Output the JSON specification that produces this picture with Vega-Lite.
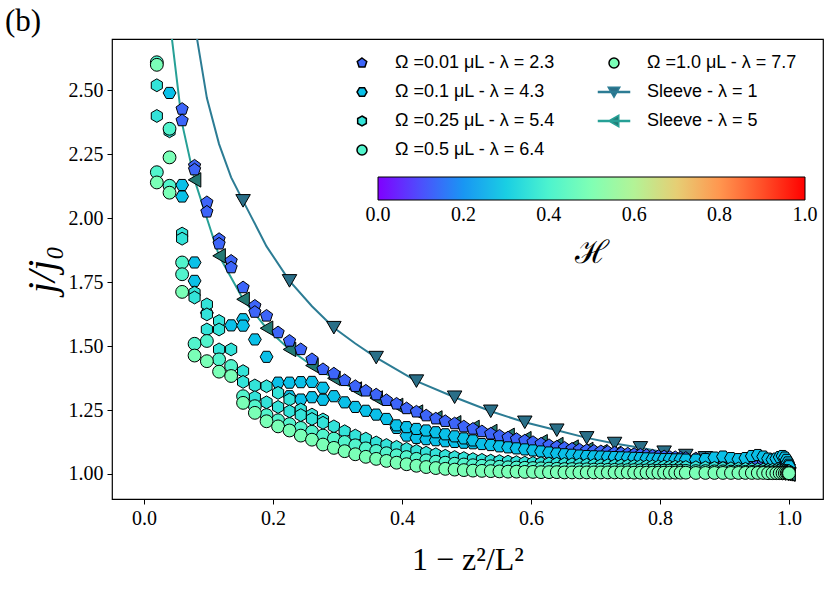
{
"$schema":"https://vega.github.io/schema/vega-lite/v6.json",
"width":711,"height":460,
"autosize":{"type":"none"},
"padding":{"left":112,"top":39,"right":7,"bottom":90},
"background":"white",
"title":{"text":"(b)","anchor":"start","frame":"group","dx":-107,"offset":1,"fontSize":31,"font":"Liberation Serif","fontWeight":"normal","color":"black"},
"config":{"view":{"stroke":"black","strokeWidth":1.2},
"axis":{"labelFont":"Liberation Serif","labelFontSize":20,"labelColor":"black","tickColor":"black","tickSize":5,"tickWidth":1,"domain":false,"grid":false,"titleFont":"Liberation Serif","titleColor":"black","titleFontWeight":"normal","labelPadding":4}},
"datasets":{
"hs":[{"s":"a","h":0.13},{"s":"b","h":0.27},{"s":"c","h":0.35},{"s":"d","h":0.41},{"s":"e","h":0.49}],
"l1":[{"x":0.0784,"y":2.76,"mk":0},{"x":0.0975,"y":2.47,"mk":0},{"x":0.1164,"y":2.29,"mk":0},{"x":0.1351,"y":2.16,"mk":0},{"x":0.1536,"y":2.068,"mk":1},{"x":0.19,"y":1.89,"mk":0},{"x":0.2256,"y":1.755,"mk":1},{"x":0.2604,"y":1.656,"mk":0},{"x":0.2944,"y":1.572,"mk":1},{"x":0.3276,"y":1.51,"mk":0},{"x":0.36,"y":1.455,"mk":1},{"x":0.4224,"y":1.363,"mk":1},{"x":0.4816,"y":1.3,"mk":1},{"x":0.5376,"y":1.245,"mk":1},{"x":0.5904,"y":1.202,"mk":1},{"x":0.64,"y":1.171,"mk":1},{"x":0.6864,"y":1.141,"mk":1},{"x":0.7296,"y":1.119,"mk":1},{"x":0.7696,"y":1.102,"mk":1},{"x":0.8064,"y":1.085,"mk":1},{"x":0.84,"y":1.072,"mk":1},{"x":0.8704,"y":1.063,"mk":1},{"x":0.8976,"y":1.052,"mk":1},{"x":0.9216,"y":1.043,"mk":1},{"x":0.9424,"y":1.034,"mk":1},{"x":0.96,"y":1.026,"mk":1},{"x":0.9744,"y":1.018,"mk":1},{"x":0.9856,"y":1.011,"mk":1},{"x":0.9936,"y":1.006,"mk":1},{"x":0.9984,"y":1.002,"mk":1},{"x":1.0,"y":1.0,"mk":1}],
"l5":[{"x":0.0396,"y":2.78,"mk":0},{"x":0.0591,"y":2.37,"mk":0},{"x":0.0784,"y":2.15,"mk":1},{"x":0.0975,"y":2.0,"mk":0},{"x":0.1164,"y":1.853,"mk":1},{"x":0.1536,"y":1.683,"mk":1},{"x":0.19,"y":1.57,"mk":1},{"x":0.2256,"y":1.487,"mk":1},{"x":0.2604,"y":1.424,"mk":1},{"x":0.2944,"y":1.374,"mk":1},{"x":0.3276,"y":1.332,"mk":1},{"x":0.36,"y":1.297,"mk":1},{"x":0.3916,"y":1.268,"mk":1},{"x":0.4224,"y":1.242,"mk":1},{"x":0.4524,"y":1.219,"mk":1},{"x":0.4816,"y":1.2,"mk":1},{"x":0.51,"y":1.182,"mk":1},{"x":0.5376,"y":1.166,"mk":1},{"x":0.5644,"y":1.151,"mk":1},{"x":0.5904,"y":1.138,"mk":1},{"x":0.6156,"y":1.126,"mk":1},{"x":0.64,"y":1.115,"mk":1},{"x":0.6636,"y":1.105,"mk":1},{"x":0.6864,"y":1.096,"mk":1},{"x":0.7084,"y":1.087,"mk":1},{"x":0.7296,"y":1.08,"mk":1},{"x":0.75,"y":1.072,"mk":1},{"x":0.7696,"y":1.065,"mk":1},{"x":0.7884,"y":1.059,"mk":1},{"x":0.8064,"y":1.053,"mk":1},{"x":0.8236,"y":1.048,"mk":1},{"x":0.84,"y":1.043,"mk":1},{"x":0.8556,"y":1.038,"mk":1},{"x":0.8704,"y":1.034,"mk":1},{"x":0.8844,"y":1.03,"mk":1},{"x":0.8976,"y":1.026,"mk":1},{"x":0.91,"y":1.023,"mk":1},{"x":0.9216,"y":1.02,"mk":1},{"x":0.9324,"y":1.017,"mk":1},{"x":0.9424,"y":1.014,"mk":1},{"x":0.9516,"y":1.012,"mk":1},{"x":0.96,"y":1.01,"mk":1},{"x":0.9676,"y":1.008,"mk":1},{"x":0.9744,"y":1.006,"mk":1},{"x":0.9804,"y":1.005,"mk":1},{"x":0.9856,"y":1.0035,"mk":1},{"x":0.99,"y":1.0024,"mk":1},{"x":0.9936,"y":1.0015,"mk":1},{"x":0.9964,"y":1.0009,"mk":1},{"x":0.9984,"y":1.0004,"mk":1},{"x":0.9996,"y":1.0001,"mk":1},{"x":1.0,"y":1.0,"mk":1}],
"pts":[
{"s":"a","x":0.0591,"y":2.427},{"s":"a","x":0.0591,"y":2.382},{"s":"a","x":0.0784,"y":2.205},{"s":"a","x":0.0784,"y":2.19},{"s":"a","x":0.0975,"y":2.062},{"s":"a","x":0.0975,"y":2.025},{"s":"a","x":0.1164,"y":1.918},{"s":"a","x":0.1164,"y":1.9},{"s":"a","x":0.1351,"y":1.833},{"s":"a","x":0.1351,"y":1.807},{"s":"a","x":0.1536,"y":1.729},{"s":"a","x":0.1719,"y":1.657},{"s":"a","x":0.1719,"y":1.633},{"s":"a","x":0.19,"y":1.618},{"s":"a","x":0.2079,"y":1.553},{"s":"a","x":0.2256,"y":1.52},{"s":"a","x":0.2431,"y":1.487},{"s":"a","x":0.2604,"y":1.448},{"s":"a","x":0.2775,"y":1.409},{"s":"a","x":0.2944,"y":1.392},{"s":"a","x":0.3111,"y":1.366},{"s":"a","x":0.3276,"y":1.343},{"s":"a","x":0.3439,"y":1.325},{"s":"a","x":0.36,"y":1.31},{"s":"a","x":0.3759,"y":1.288},{"s":"a","x":0.3916,"y":1.274},{"s":"a","x":0.4071,"y":1.256},{"s":"a","x":0.4224,"y":1.243},{"s":"a","x":0.4375,"y":1.228},{"s":"a","x":0.4524,"y":1.216},{"s":"a","x":0.4671,"y":1.206},{"s":"a","x":0.4816,"y":1.197},{"s":"a","x":0.4959,"y":1.185},{"s":"a","x":0.51,"y":1.176},{"s":"a","x":0.5239,"y":1.166},{"s":"a","x":0.5376,"y":1.157},{"s":"a","x":0.5511,"y":1.149},{"s":"a","x":0.5644,"y":1.142},{"s":"a","x":0.5775,"y":1.136},{"s":"a","x":0.5904,"y":1.13},{"s":"a","x":0.6031,"y":1.124},{"s":"a","x":0.6156,"y":1.118},{"s":"a","x":0.6279,"y":1.112},{"s":"a","x":0.64,"y":1.106},{"s":"a","x":0.6519,"y":1.102},{"s":"a","x":0.6636,"y":1.098},{"s":"a","x":0.6751,"y":1.095},{"s":"a","x":0.6864,"y":1.092},{"s":"a","x":0.6975,"y":1.09},{"s":"a","x":0.7084,"y":1.088},{"s":"a","x":0.7191,"y":1.086},{"s":"a","x":0.7296,"y":1.083},{"s":"a","x":0.7399,"y":1.081},{"s":"a","x":0.75,"y":1.079},{"s":"a","x":0.7599,"y":1.077},{"s":"a","x":0.7696,"y":1.075},{"s":"a","x":0.7791,"y":1.073},{"s":"a","x":0.7884,"y":1.071},{"s":"a","x":0.7975,"y":1.069},{"s":"a","x":0.8064,"y":1.068},{"s":"a","x":0.8151,"y":1.066},{"s":"a","x":0.8236,"y":1.065},{"s":"a","x":0.8319,"y":1.063},{"s":"a","x":0.84,"y":1.062},{"s":"a","x":0.8556,"y":1.06},{"s":"a","x":0.8704,"y":1.058},{"s":"a","x":0.8844,"y":1.056},{"s":"a","x":0.8976,"y":1.054},{"s":"a","x":0.91,"y":1.052},{"s":"a","x":0.9216,"y":1.05},{"s":"a","x":0.9324,"y":1.049},{"s":"a","x":0.9424,"y":1.047},{"s":"a","x":0.9516,"y":1.046},{"s":"a","x":0.96,"y":1.044},{"s":"a","x":0.9676,"y":1.043},{"s":"a","x":0.9744,"y":1.041},{"s":"a","x":0.9804,"y":1.04},{"s":"a","x":0.9856,"y":1.038},{"s":"a","x":0.99,"y":1.037},{"s":"a","x":0.9936,"y":1.035},{"s":"a","x":0.9964,"y":1.034},{"s":"a","x":0.9984,"y":1.032},{"s":"a","x":0.9996,"y":1.031},{"s":"a","x":1.0,"y":1.03},
{"s":"b","x":0.0396,"y":2.49},{"s":"b","x":0.0591,"y":2.13},{"s":"b","x":0.0591,"y":2.085},{"s":"b","x":0.0784,"y":1.827},{"s":"b","x":0.0784,"y":1.755},{"s":"b","x":0.0975,"y":1.63},{"s":"b","x":0.1351,"y":1.581},{"s":"b","x":0.1536,"y":1.605},{"s":"b","x":0.1536,"y":1.58},{"s":"b","x":0.1719,"y":1.526},{"s":"b","x":0.19,"y":1.458},{"s":"b","x":0.2079,"y":1.357},{"s":"b","x":0.2256,"y":1.357},{"s":"b","x":0.2256,"y":1.304},{"s":"b","x":0.2431,"y":1.359},{"s":"b","x":0.2431,"y":1.291},{"s":"b","x":0.2604,"y":1.36},{"s":"b","x":0.2604,"y":1.3},{"s":"b","x":0.2775,"y":1.337},{"s":"b","x":0.2775,"y":1.29},{"s":"b","x":0.2944,"y":1.304},{"s":"b","x":0.3111,"y":1.28},{"s":"b","x":0.3276,"y":1.262},{"s":"b","x":0.3439,"y":1.247},{"s":"b","x":0.36,"y":1.232},{"s":"b","x":0.3759,"y":1.215},{"s":"b","x":0.3916,"y":1.18},{"s":"b","x":0.3916,"y":1.19},{"s":"b","x":0.4071,"y":1.15},{"s":"b","x":0.4071,"y":1.183},{"s":"b","x":0.4224,"y":1.141},{"s":"b","x":0.4224,"y":1.176},{"s":"b","x":0.4375,"y":1.136},{"s":"b","x":0.4375,"y":1.17},{"s":"b","x":0.4524,"y":1.132},{"s":"b","x":0.4524,"y":1.163},{"s":"b","x":0.4671,"y":1.128},{"s":"b","x":0.4671,"y":1.155},{"s":"b","x":0.4816,"y":1.125},{"s":"b","x":0.4816,"y":1.147},{"s":"b","x":0.4959,"y":1.122},{"s":"b","x":0.4959,"y":1.139},{"s":"b","x":0.51,"y":1.12},{"s":"b","x":0.51,"y":1.131},{"s":"b","x":0.5239,"y":1.117},{"s":"b","x":0.5376,"y":1.113},{"s":"b","x":0.5511,"y":1.108},{"s":"b","x":0.5644,"y":1.104},{"s":"b","x":0.5775,"y":1.1},{"s":"b","x":0.5904,"y":1.096},{"s":"b","x":0.6031,"y":1.092},{"s":"b","x":0.6156,"y":1.088},{"s":"b","x":0.6279,"y":1.084},{"s":"b","x":0.64,"y":1.08},{"s":"b","x":0.6519,"y":1.077},{"s":"b","x":0.6636,"y":1.075},{"s":"b","x":0.6751,"y":1.072},{"s":"b","x":0.6864,"y":1.07},{"s":"b","x":0.6975,"y":1.069},{"s":"b","x":0.7084,"y":1.068},{"s":"b","x":0.7191,"y":1.067},{"s":"b","x":0.7296,"y":1.066},{"s":"b","x":0.7399,"y":1.065},{"s":"b","x":0.75,"y":1.064},{"s":"b","x":0.7599,"y":1.063},{"s":"b","x":0.7696,"y":1.062},{"s":"b","x":0.7791,"y":1.061},{"s":"b","x":0.7884,"y":1.06},{"s":"b","x":0.7975,"y":1.059},{"s":"b","x":0.8064,"y":1.058},{"s":"b","x":0.8151,"y":1.058},{"s":"b","x":0.8236,"y":1.057},{"s":"b","x":0.8319,"y":1.057},{"s":"b","x":0.84,"y":1.056},{"s":"b","x":0.8556,"y":1.056},{"s":"b","x":0.8704,"y":1.058},{"s":"b","x":0.8844,"y":1.064},{"s":"b","x":0.8976,"y":1.068},{"s":"b","x":0.91,"y":1.062},{"s":"b","x":0.9216,"y":1.058},{"s":"b","x":0.9324,"y":1.062},{"s":"b","x":0.9424,"y":1.07},{"s":"b","x":0.9516,"y":1.074},{"s":"b","x":0.96,"y":1.068},{"s":"b","x":0.9676,"y":1.06},{"s":"b","x":0.9744,"y":1.056},{"s":"b","x":0.9804,"y":1.06},{"s":"b","x":0.9856,"y":1.066},{"s":"b","x":0.99,"y":1.07},{"s":"b","x":0.9936,"y":1.064},{"s":"b","x":0.9964,"y":1.055},{"s":"b","x":0.9984,"y":1.045},{"s":"b","x":0.9996,"y":1.036},{"s":"b","x":1.0,"y":1.03},
{"s":"c","x":0.0199,"y":2.52},{"s":"c","x":0.0199,"y":2.4},{"s":"c","x":0.0396,"y":2.34},{"s":"c","x":0.0591,"y":1.94},{"s":"c","x":0.0591,"y":1.92},{"s":"c","x":0.0784,"y":1.709},{"s":"c","x":0.0784,"y":1.69},{"s":"c","x":0.0975,"y":1.663},{"s":"c","x":0.0975,"y":1.624},{"s":"c","x":0.0975,"y":1.565},{"s":"c","x":0.1164,"y":1.598},{"s":"c","x":0.1164,"y":1.565},{"s":"c","x":0.1164,"y":1.487},{"s":"c","x":0.1351,"y":1.487},{"s":"c","x":0.1536,"y":1.402},{"s":"c","x":0.1536,"y":1.36},{"s":"c","x":0.1719,"y":1.346},{"s":"c","x":0.1719,"y":1.3},{"s":"c","x":0.19,"y":1.343},{"s":"c","x":0.19,"y":1.28},{"s":"c","x":0.2079,"y":1.317},{"s":"c","x":0.2079,"y":1.262},{"s":"c","x":0.2256,"y":1.291},{"s":"c","x":0.2256,"y":1.245},{"s":"c","x":0.2431,"y":1.252},{"s":"c","x":0.2431,"y":1.23},{"s":"c","x":0.2604,"y":1.232},{"s":"c","x":0.2604,"y":1.215},{"s":"c","x":0.2775,"y":1.213},{"s":"c","x":0.2775,"y":1.2},{"s":"c","x":0.2944,"y":1.186},{"s":"c","x":0.3111,"y":1.167},{"s":"c","x":0.3276,"y":1.15},{"s":"c","x":0.3439,"y":1.138},{"s":"c","x":0.36,"y":1.123},{"s":"c","x":0.3759,"y":1.113},{"s":"c","x":0.3916,"y":1.106},{"s":"c","x":0.4071,"y":1.098},{"s":"c","x":0.4224,"y":1.09},{"s":"c","x":0.4375,"y":1.083},{"s":"c","x":0.4524,"y":1.077},{"s":"c","x":0.4671,"y":1.071},{"s":"c","x":0.4816,"y":1.066},{"s":"c","x":0.4959,"y":1.062},{"s":"c","x":0.51,"y":1.058},{"s":"c","x":0.5239,"y":1.055},{"s":"c","x":0.5376,"y":1.052},{"s":"c","x":0.5511,"y":1.05},{"s":"c","x":0.5644,"y":1.048},{"s":"c","x":0.5775,"y":1.046},{"s":"c","x":0.5904,"y":1.044},{"s":"c","x":0.6031,"y":1.043},{"s":"c","x":0.6156,"y":1.042},{"s":"c","x":0.6279,"y":1.041},{"s":"c","x":0.64,"y":1.04},{"s":"c","x":0.6519,"y":1.039},{"s":"c","x":0.6636,"y":1.038},{"s":"c","x":0.6751,"y":1.037},{"s":"c","x":0.6864,"y":1.036},{"s":"c","x":0.6975,"y":1.035},{"s":"c","x":0.7084,"y":1.034},{"s":"c","x":0.7191,"y":1.034},{"s":"c","x":0.7296,"y":1.033},{"s":"c","x":0.7399,"y":1.033},{"s":"c","x":0.75,"y":1.032},{"s":"c","x":0.7599,"y":1.031},{"s":"c","x":0.7696,"y":1.031},{"s":"c","x":0.7791,"y":1.03},{"s":"c","x":0.7884,"y":1.03},{"s":"c","x":0.7975,"y":1.029},{"s":"c","x":0.8064,"y":1.029},{"s":"c","x":0.8151,"y":1.028},{"s":"c","x":0.8236,"y":1.028},{"s":"c","x":0.8319,"y":1.027},{"s":"c","x":0.84,"y":1.027},{"s":"c","x":0.8556,"y":1.026},{"s":"c","x":0.8704,"y":1.025},{"s":"c","x":0.8844,"y":1.024},{"s":"c","x":0.8976,"y":1.023},{"s":"c","x":0.91,"y":1.022},{"s":"c","x":0.9216,"y":1.021},{"s":"c","x":0.9324,"y":1.02},{"s":"c","x":0.9424,"y":1.019},{"s":"c","x":0.9516,"y":1.018},{"s":"c","x":0.96,"y":1.017},{"s":"c","x":0.9676,"y":1.016},{"s":"c","x":0.9744,"y":1.016},{"s":"c","x":0.9804,"y":1.015},{"s":"c","x":0.9856,"y":1.014},{"s":"c","x":0.99,"y":1.013},{"s":"c","x":0.9936,"y":1.013},{"s":"c","x":0.9964,"y":1.012},{"s":"c","x":0.9984,"y":1.012},{"s":"c","x":0.9996,"y":1.011},{"s":"c","x":1.0,"y":1.011},
{"s":"d","x":0.0199,"y":2.61},{"s":"d","x":0.0199,"y":2.18},{"s":"d","x":0.0396,"y":2.35},{"s":"d","x":0.0396,"y":2.127},{"s":"d","x":0.0591,"y":1.827},{"s":"d","x":0.0591,"y":1.781},{"s":"d","x":0.0784,"y":1.509},{"s":"d","x":0.0975,"y":1.52},{"s":"d","x":0.1164,"y":1.448},{"s":"d","x":0.1351,"y":1.422},{"s":"d","x":0.1536,"y":1.304},{"s":"d","x":0.1719,"y":1.265},{"s":"d","x":0.19,"y":1.23},{"s":"d","x":0.2079,"y":1.21},{"s":"d","x":0.2256,"y":1.195},{"s":"d","x":0.2431,"y":1.18},{"s":"d","x":0.2604,"y":1.165},{"s":"d","x":0.2775,"y":1.15},{"s":"d","x":0.2944,"y":1.138},{"s":"d","x":0.3111,"y":1.125},{"s":"d","x":0.3276,"y":1.112},{"s":"d","x":0.3439,"y":1.1},{"s":"d","x":0.36,"y":1.09},{"s":"d","x":0.3759,"y":1.081},{"s":"d","x":0.3916,"y":1.073},{"s":"d","x":0.4071,"y":1.066},{"s":"d","x":0.4224,"y":1.059},{"s":"d","x":0.4375,"y":1.053},{"s":"d","x":0.4524,"y":1.048},{"s":"d","x":0.4671,"y":1.044},{"s":"d","x":0.4816,"y":1.04},{"s":"d","x":0.4959,"y":1.037},{"s":"d","x":0.51,"y":1.034},{"s":"d","x":0.5239,"y":1.032},{"s":"d","x":0.5376,"y":1.03},{"s":"d","x":0.5511,"y":1.028},{"s":"d","x":0.5644,"y":1.026},{"s":"d","x":0.5775,"y":1.025},{"s":"d","x":0.5904,"y":1.024},{"s":"d","x":0.6031,"y":1.023},{"s":"d","x":0.6156,"y":1.022},{"s":"d","x":0.6279,"y":1.021},{"s":"d","x":0.64,"y":1.02},{"s":"d","x":0.6519,"y":1.019},{"s":"d","x":0.6636,"y":1.019},{"s":"d","x":0.6751,"y":1.018},{"s":"d","x":0.6864,"y":1.018},{"s":"d","x":0.6975,"y":1.017},{"s":"d","x":0.7084,"y":1.017},{"s":"d","x":0.7191,"y":1.016},{"s":"d","x":0.7296,"y":1.016},{"s":"d","x":0.7399,"y":1.015},{"s":"d","x":0.75,"y":1.015},{"s":"d","x":0.7599,"y":1.015},{"s":"d","x":0.7696,"y":1.014},{"s":"d","x":0.7791,"y":1.014},{"s":"d","x":0.7884,"y":1.014},{"s":"d","x":0.7975,"y":1.013},{"s":"d","x":0.8064,"y":1.013},{"s":"d","x":0.8151,"y":1.013},{"s":"d","x":0.8236,"y":1.012},{"s":"d","x":0.8319,"y":1.012},{"s":"d","x":0.84,"y":1.012},{"s":"d","x":0.8556,"y":1.011},{"s":"d","x":0.8704,"y":1.011},{"s":"d","x":0.8844,"y":1.01},{"s":"d","x":0.8976,"y":1.01},{"s":"d","x":0.91,"y":1.009},{"s":"d","x":0.9216,"y":1.009},{"s":"d","x":0.9324,"y":1.008},{"s":"d","x":0.9424,"y":1.008},{"s":"d","x":0.9516,"y":1.007},{"s":"d","x":0.96,"y":1.007},{"s":"d","x":0.9676,"y":1.006},{"s":"d","x":0.9744,"y":1.006},{"s":"d","x":0.9804,"y":1.006},{"s":"d","x":0.9856,"y":1.005},{"s":"d","x":0.99,"y":1.005},{"s":"d","x":0.9936,"y":1.005},{"s":"d","x":0.9964,"y":1.004},{"s":"d","x":0.9984,"y":1.004},{"s":"d","x":0.9996,"y":1.004},{"s":"d","x":1.0,"y":1.004},
{"s":"e","x":0.0199,"y":2.6},{"s":"e","x":0.0199,"y":2.14},{"s":"e","x":0.0396,"y":2.238},{"s":"e","x":0.0396,"y":2.1},{"s":"e","x":0.0591,"y":1.712},{"s":"e","x":0.0784,"y":1.463},{"s":"e","x":0.0975,"y":1.441},{"s":"e","x":0.1164,"y":1.4},{"s":"e","x":0.1351,"y":1.383},{"s":"e","x":0.1536,"y":1.278},{"s":"e","x":0.1719,"y":1.239},{"s":"e","x":0.19,"y":1.206},{"s":"e","x":0.2079,"y":1.186},{"s":"e","x":0.2256,"y":1.17},{"s":"e","x":0.2431,"y":1.15},{"s":"e","x":0.2604,"y":1.134},{"s":"e","x":0.2775,"y":1.115},{"s":"e","x":0.2944,"y":1.102},{"s":"e","x":0.3111,"y":1.089},{"s":"e","x":0.3276,"y":1.077},{"s":"e","x":0.3439,"y":1.067},{"s":"e","x":0.36,"y":1.059},{"s":"e","x":0.3759,"y":1.051},{"s":"e","x":0.3916,"y":1.044},{"s":"e","x":0.4071,"y":1.038},{"s":"e","x":0.4224,"y":1.032},{"s":"e","x":0.4375,"y":1.027},{"s":"e","x":0.4524,"y":1.023},{"s":"e","x":0.4671,"y":1.02},{"s":"e","x":0.4816,"y":1.017},{"s":"e","x":0.4959,"y":1.015},{"s":"e","x":0.51,"y":1.013},{"s":"e","x":0.5239,"y":1.012},{"s":"e","x":0.5376,"y":1.011},{"s":"e","x":0.5511,"y":1.01},{"s":"e","x":0.5644,"y":1.009},{"s":"e","x":0.5775,"y":1.009},{"s":"e","x":0.5904,"y":1.008},{"s":"e","x":0.6031,"y":1.008},{"s":"e","x":0.6156,"y":1.007},{"s":"e","x":0.6279,"y":1.007},{"s":"e","x":0.64,"y":1.007},{"s":"e","x":0.6519,"y":1.006},{"s":"e","x":0.6636,"y":1.006},{"s":"e","x":0.6751,"y":1.006},{"s":"e","x":0.6864,"y":1.006},{"s":"e","x":0.6975,"y":1.006},{"s":"e","x":0.7084,"y":1.006},{"s":"e","x":0.7191,"y":1.006},{"s":"e","x":0.7296,"y":1.006},{"s":"e","x":0.7399,"y":1.006},{"s":"e","x":0.75,"y":1.006},{"s":"e","x":0.7599,"y":1.005},{"s":"e","x":0.7696,"y":1.005},{"s":"e","x":0.7791,"y":1.005},{"s":"e","x":0.7884,"y":1.005},{"s":"e","x":0.7975,"y":1.005},{"s":"e","x":0.8064,"y":1.005},{"s":"e","x":0.8151,"y":1.005},{"s":"e","x":0.8236,"y":1.005},{"s":"e","x":0.8319,"y":1.005},{"s":"e","x":0.84,"y":1.005},{"s":"e","x":0.8556,"y":1.004},{"s":"e","x":0.8704,"y":1.004},{"s":"e","x":0.8844,"y":1.004},{"s":"e","x":0.8976,"y":1.004},{"s":"e","x":0.91,"y":1.004},{"s":"e","x":0.9216,"y":1.004},{"s":"e","x":0.9324,"y":1.004},{"s":"e","x":0.9424,"y":1.004},{"s":"e","x":0.9516,"y":1.004},{"s":"e","x":0.96,"y":1.004},{"s":"e","x":0.9676,"y":1.003},{"s":"e","x":0.9744,"y":1.003},{"s":"e","x":0.9804,"y":1.003},{"s":"e","x":0.9856,"y":1.003},{"s":"e","x":0.99,"y":1.003},{"s":"e","x":0.9936,"y":1.003},{"s":"e","x":0.9964,"y":1.003},{"s":"e","x":0.9984,"y":1.003},{"s":"e","x":0.9996,"y":1.003},{"s":"e","x":1.0,"y":1.003}
]},
"layer":[
{"data":{"name":"hs"},"mark":{"type":"point","filled":true,"size":0,"opacity":1},
 "encoding":{"color":{"field":"h","type":"quantitative",
   "scale":{"domain":[0,0.1,0.2,0.3,0.4,0.5,0.6,0.7,0.8,0.9,1.0],"range":["#8000ff","#4d4ffc","#1996f3","#1acee3","#4df3ce","#80ffb4","#b3f396","#e6ce74","#ff964f","#ff4f28","#ff0000"],"interpolate":"rgb"},
   "legend":{"orient":"none","legendX":266,"legendY":138,"direction":"horizontal","gradientLength":427,"gradientThickness":23,
    "title":"ℋ","titleOrient":"bottom","titleAnchor":"middle","titleFont":"DejaVu Serif","titleFontSize":32,"titleFontWeight":"normal","titleColor":"black","titlePadding":13,
    "values":[0.0001,0.2,0.4,0.6,0.8,0.9999],"format":".1f","labelFont":"Liberation Serif","labelFontSize":20,"labelColor":"black","labelAlign":"center","labelOffset":5,
    "gradientStrokeColor":"black","gradientStrokeWidth":1,"padding":0}}}},
{"data":{"name":"l1"},"mark":{"type":"line","color":"#2c7c94","strokeWidth":2,"clip":true},
 "encoding":{"x":{"field":"x","type":"quantitative","scale":{"domain":[-0.0496,1.0527],"nice":false,"zero":false},
   "axis":{"values":[0,0.2,0.4,0.6,0.8,1.0],"format":".1f","title":"1 − z²/L²","titleFontSize":32,"titlePadding":16}},
  "y":{"field":"y","type":"quantitative","scale":{"domain":[0.902,2.701],"nice":false,"zero":false},
   "axis":{"values":[1.0,1.25,1.5,1.75,2.0,2.25,2.5],"format":".2f","title":"j/j₀","titleFontSize":40,"titleFontStyle":"italic","titlePadding":6}}}},
{"data":{"name":"l5"},"mark":{"type":"line","color":"#26a096","strokeWidth":2,"clip":true},
 "encoding":{"x":{"field":"x","type":"quantitative"},"y":{"field":"y","type":"quantitative"}}},
{"data":{"name":"l1"},"transform":[{"filter":"datum.mk == 1"}],"mark":{"type":"point","shape":"triangle-down","filled":true,"fill":"#2a6f88","stroke":"black","strokeWidth":1,"size":210,"opacity":1,"clip":true},
 "encoding":{"x":{"field":"x","type":"quantitative"},"y":{"field":"y","type":"quantitative"}}},
{"data":{"name":"l5"},"transform":[{"filter":"datum.mk == 1"}],"mark":{"type":"point","shape":"triangle-left","filled":true,"fill":"#237a74","stroke":"black","strokeWidth":1,"size":210,"opacity":1,"clip":true},
 "encoding":{"x":{"field":"x","type":"quantitative"},"y":{"field":"y","type":"quantitative"}}},
{"data":{"name":"pts"},
 "mark":{"type":"point","filled":true,"strokeWidth":1,"size":165,"opacity":1,"clip":true},
 "encoding":{"x":{"field":"x","type":"quantitative"},"y":{"field":"y","type":"quantitative"},
  "shape":{"field":"s","type":"nominal",
   "scale":{"domain":["a","b","c","d","e","S1","S5"],
    "range":["M0,-1L0.951,-0.309L0.588,0.809L-0.588,0.809L-0.951,-0.309Z","M1,0L0.5,0.866L-0.5,0.866L-1,0L-0.5,-0.866L0.5,-0.866Z","M0,-1L0.866,-0.5L0.866,0.5L0,1L-0.866,0.5L-0.866,-0.5Z","circle","circle","M-3.1,-0.1H3.1V0.1H-3.1ZM-1.15,-0.95L1.15,-0.95L0,1.05Z","M-3.1,-0.1H3.1V0.1H-3.1ZM-1.05,0L0.95,-1.15L0.95,1.15Z"]},
   "legend":{"orient":"none","legendX":241,"legendY":15,"columns":2,"title":null,"padding":0,
    "labelExpr":"datum.value=='a'?'Ω =0.01 μL - λ = 2.3':datum.value=='b'?'Ω =0.1 μL - λ = 4.3':datum.value=='c'?'Ω =0.25 μL - λ = 5.4':datum.value=='d'?'Ω =0.5 μL - λ = 6.4':datum.value=='e'?'Ω =1.0 μL - λ = 7.7':datum.value=='S1'?'Sleeve - λ = 1':'Sleeve - λ = 5'",
    "labelFont":"Liberation Sans","labelFontSize":18,"labelColor":"black","labelLimit":400,
    "labelOffset":24,"rowPadding":11,"columnPadding":40}},
  "fill":{"field":"s","type":"nominal",
   "scale":{"domain":["a","b","c","d","e","S1","S5"],"range":["#3d65f9","#0ac0e8","#33e3d9","#52f4cc","#7affb7","#2a6f88","#237a74"]}},
  "stroke":{"field":"s","type":"nominal",
   "scale":{"domain":["a","b","c","d","e","S1","S5"],"range":["black","black","black","black","black","#2c7c94","#26a096"]}}}}
]
}
